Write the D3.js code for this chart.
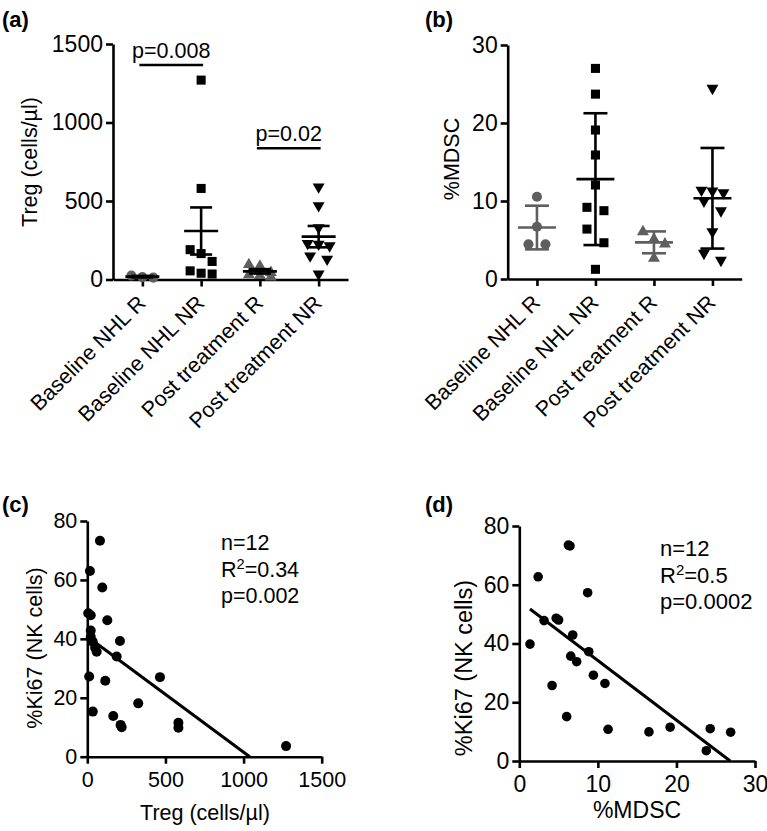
<!DOCTYPE html>
<html><head><meta charset="utf-8">
<script src="https://cdn.jsdelivr.net/npm/d3@7"></script>
<style>body{margin:0;background:#fff}</style>
</head><body><svg id="chart" width="767" height="831"></svg>
<script>
// ---------------- DATA ----------------
const categories = ["Baseline NHL R", "Baseline NHL NR", "Post treatment R", "Post treatment NR"];

// (a) Treg (cells/µl)
const tregBaseR  = [25, 15, 12];
const tregBaseNR = [1270, 580, 190, 165, 115, 55, 40, 35];
const tregPostR  = [95, 85, 45, 30, 25, 15];
const tregPostNR = [590, 470, 330, 230, 225, 215, 150, 130, 35];
const tregMean   = [18, 309, 52, 273];
const tregSEM    = [5, 150, 14, 68];
const tregTicks  = [0, 500, 1000, 1500];
const sigLabels  = ["p=0.008", "p=0.02"];
const sigPairs   = [[0, 1], [2, 3]];
const sigLevels  = [1366, 836];

// (b) %MDSC
const mdscBaseR  = [10.55, 6.7, 4.45, 4.45];
const mdscBaseNR = [27.0, 23.7, 19.1, 15.9, 12.05, 9.19, 8.76, 6.4, 4.65, 1.24];
const mdscPostR  = [6.06, 5.1, 4.49, 2.65];
const mdscPostNR = [24.45, 11.4, 11.3, 11.05, 10.0, 8.75, 6.06, 3.3, 2.4];
const mdscMean   = [6.6, 12.8, 4.7, 10.35];
const mdscSD     = [2.8, 8.45, 1.4, 6.45];
const mdscTicks  = [0, 10, 20, 30];

// (c) Treg vs %Ki67
const cTreg = [81, 17, 96, 6, 22, 128, 22, 22, 35, 50, 60, 209, 188, 12, 115, 465, 326, 35, 166, 213, 220, 583, 583, 1272];
const cKi67 = [73.3, 63, 57.4, 48.7, 48, 46.3, 42.8, 40.7, 39, 37, 35.6, 39.3, 34, 27.2, 25.8, 27, 18.1, 15.3, 13.8, 10.8, 10, 11.5, 9.8, 3.6];
const cFit  = {intercept: 40.8, slope: -0.03925};
const cStats = ["n=12", "R", "=0.34", "p=0.002"];
const cXTicks = [0, 500, 1000, 1500];
const kiTicks = [0, 20, 40, 60, 80];

// (d) %MDSC vs %Ki67
const dMdsc = [6.25, 6.45, 2.4, 8.7, 4.7, 5.0, 3.15, 1.36, 6.8, 8.84, 6.55, 7.3, 9.43, 10.9, 4.17, 6.03, 11.3, 16.5, 19.2, 24.3, 26.9, 23.8];
const dKi67 = [73.5, 73.2, 62.7, 57.3, 48.6, 48, 47.8, 39.8, 42.9, 37.2, 35.7, 33.8, 29.2, 26.4, 25.7, 15.1, 10.8, 9.9, 11.5, 11, 9.8, 3.5];
const dFit  = {intercept: 54.5, slope: -2.03};
const dStats = ["n=12", "R", "=0.5", "p=0.0002"];
const dXTicks = [0, 10, 20, 30];

// ---------------- DRAWING ----------------
const FONT = "'Liberation Sans', Arial, Helvetica, sans-serif";
const GRAY = "#5e5e5e";
const FS = 21.5;
const LW = 2.6;
const svg = d3.select("#chart");

function styleAxis(g, fs) {
  g.select(".domain").attr("stroke", "#000").attr("stroke-width", LW);
  g.selectAll(".tick line").attr("stroke", "#000").attr("stroke-width", LW);
  g.selectAll(".tick text").attr("font-size", fs).attr("font-family", FONT).attr("fill", "#000");
}
function txt(x, y, s, opt = {}) {
  const t = svg.append("text").attr("x", x).attr("y", y).text(s)
    .attr("font-family", FONT).attr("font-size", opt.fs || FS).attr("fill", "#000")
    .attr("text-anchor", opt.anchor || "start");
  if (opt.bold) t.attr("font-weight", "bold");
  if (opt.rot) t.attr("transform", `rotate(${opt.rot},${x},${y})`);
  return t;
}

// swarm-like horizontal arrangement (Prism-style)
function arrange(vals, y, thr = 14, cap = 3) {
  const pts = vals.map(v => ({ v, py: y(v) })).sort((a, b) => a.py - b.py);
  const clusters = []; let cur = null;
  pts.forEach(p => {
    if (cur && p.py - cur[0].py < thr && cur.length < cap) cur.push(p);
    else { cur = [p]; clusters.push(cur); }
  });
  clusters.forEach(c => {
    const n = c.length;
    c.forEach((p, i) => { p.dx = n === 1 ? 0 : n === 2 ? (i === 0 ? -8.5 : 8.5) : (i - (n - 1) / 2) * 11; });
  });
  return pts;
}

const symSquare = d3.symbol().type(d3.symbolSquare).size(82)();
const symCircle = d3.symbol().type(d3.symbolCircle).size(80)();
const symTri    = d3.symbol().type(d3.symbolTriangle).size(62)();

function columnPanel(cfg) {
  const x = d3.scalePoint().domain(categories).range(cfg.xRange).padding(0.5);
  const y = d3.scaleLinear().domain(cfg.yDomain).range(cfg.yRange);
  const gy = svg.append("g").attr("transform", `translate(${cfg.xRange[0]},0)`)
    .call(d3.axisLeft(y).tickValues(cfg.ticks).tickSize(7).tickSizeOuter(0).tickPadding(3).tickFormat(d3.format("d")));
  styleAxis(gy, cfg.tickFs);
  const gx = svg.append("g").attr("transform", `translate(0,${cfg.yRange[0]})`)
    .call(d3.axisBottom(x).tickSize(7).tickSizeOuter(0));
  styleAxis(gx, FS);
  gx.selectAll(".tick text").attr("x", 0).attr("y", 0).attr("dy", 0)
    .attr("text-anchor", "end").attr("transform", "translate(4,25) rotate(-45)");
  cfg.groups.forEach((vals, gi) => {
    const cx = x(categories[gi]);
    const pts = arrange(vals, y);
    svg.append("g").selectAll("path").data(pts).join("path")
      .attr("d", cfg.shapes[gi])
      .attr("transform", d => `translate(${cx + d.dx},${d.py})${cfg.flip[gi] ? " rotate(180)" : ""}`)
      .attr("fill", cfg.colors[gi]);
  });
  cfg.mean.forEach((m, gi) => {
    const cx = x(categories[gi]);
    const col = cfg.barColors[gi];
    const g = svg.append("g").attr("stroke", col).attr("stroke-width", LW).attr("fill", "none");
    const e = cfg.err[gi];
    g.append("line").attr("x1", cx).attr("x2", cx).attr("y1", y(m - e)).attr("y2", y(m + e));
    [m - e, m + e].forEach(v => g.append("line").attr("x1", cx - cfg.capW).attr("x2", cx + cfg.capW).attr("y1", y(v)).attr("y2", y(v)));
    g.append("line").attr("x1", cx - cfg.meanW).attr("x2", cx + cfg.meanW).attr("y1", y(m)).attr("y2", y(m));
  });
  return { x, y };
}

// ---- Panel (a)
const A = columnPanel({
  xRange: [113, 348], yRange: [279.5, 44], yDomain: [0, 1500], ticks: tregTicks, tickFs: 23,
  groups: [tregBaseR, tregBaseNR, tregPostR, tregPostNR],
  shapes: [symCircle, symSquare, symTri, symTri], flip: [false, false, false, true],
  colors: [GRAY, "#000", GRAY, "#000"], barColors: ["#000", "#000", "#000", "#000"],
  mean: tregMean, err: tregSEM, meanW: 17, capW: 11
});
sigPairs.forEach((pr, i) => {
  const x1 = A.x(categories[pr[0]]) - 3, x2 = A.x(categories[pr[1]]) + 2;
  const yy = A.y(sigLevels[i]);
  svg.append("line").attr("x1", x1).attr("x2", x2).attr("y1", yy).attr("y2", yy)
    .attr("stroke", "#000").attr("stroke-width", LW);
  txt((x1 + x2) / 2, yy - 7, sigLabels[i], { anchor: "middle" });
});
txt(2, 27, "(a)", { bold: true, fs: 22 });
txt(37, 162, "Treg (cells/µl)", { anchor: "middle", rot: -90 });

// ---- Panel (b)
columnPanel({
  xRange: [507.7, 741.7], yRange: [279, 45], yDomain: [0, 30], ticks: mdscTicks, tickFs: 23,
  groups: [mdscBaseR, mdscBaseNR, mdscPostR, mdscPostNR],
  shapes: [symCircle, symSquare, symTri, symTri], flip: [false, false, false, true],
  colors: [GRAY, "#000", GRAY, "#000"], barColors: [GRAY, "#000", GRAY, "#000"],
  mean: mdscMean, err: mdscSD, meanW: 19, capW: 12
});
txt(425, 27, "(b)", { bold: true, fs: 22 });
txt(458.5, 159, "%MDSC", { anchor: "middle", rot: -90 });

// ---- Scatter panels
function scatterPanel(cfg) {
  const x = d3.scaleLinear().domain(cfg.xDomain).range(cfg.xRange);
  const y = d3.scaleLinear().domain([0, 80]).range(cfg.yRange);
  const gy = svg.append("g").attr("transform", `translate(${cfg.xRange[0]},0)`)
    .call(d3.axisLeft(y).tickValues(kiTicks).tickSize(7).tickSizeOuter(0).tickPadding(3));
  styleAxis(gy, cfg.fs);
  const gx = svg.append("g").attr("transform", `translate(0,${cfg.yRange[0]})`)
    .call(d3.axisBottom(x).tickValues(cfg.xTicks).tickSize(7).tickSizeOuter(0).tickPadding(8).tickFormat(d3.format("d")));
  styleAxis(gx, cfg.fs);
  const xs = d3.min(cfg.xs);
  const xe = Math.min(d3.max(cfg.xs), -cfg.fit.intercept / cfg.fit.slope);
  svg.append("line")
    .attr("x1", x(xs)).attr("y1", y(cfg.fit.intercept + cfg.fit.slope * xs))
    .attr("x2", x(xe)).attr("y2", y(cfg.fit.intercept + cfg.fit.slope * xe))
    .attr("stroke", "#000").attr("stroke-width", 3);
  svg.append("g").selectAll("circle").data(cfg.xs.map((v, i) => [v, cfg.ys[i]])).join("circle")
    .attr("cx", d => x(d[0])).attr("cy", d => y(d[1])).attr("r", cfg.r).attr("fill", "#000");
  const [n, r, rv, p] = cfg.stats;
  txt(cfg.statX, cfg.statY, n, { fs: cfg.sfs });
  const t = txt(cfg.statX, cfg.statY + 26.5, r, { fs: cfg.sfs });
  t.append("tspan").attr("dy", -8).attr("font-size", cfg.sfs * 0.68).text("2");
  t.append("tspan").attr("dy", 8).text(rv);
  txt(cfg.statX, cfg.statY + 53, p, { fs: cfg.sfs });
  return { x, y };
}

scatterPanel({
  xDomain: [0, 1500], xRange: [87.3, 321.7], yRange: [756.7, 521], xTicks: cXTicks,
  xs: cTreg, ys: cKi67, fit: cFit, stats: cStats, statX: 221, statY: 550, r: 5, fs: 21.5, sfs: 21.5
});
txt(2, 512, "(c)", { bold: true, fs: 22 });
txt(42, 648, "%Ki67  (NK cells)", { anchor: "middle", rot: -90 });
txt(205, 820, "Treg (cells/µl)", { anchor: "middle" });

scatterPanel({
  xDomain: [0, 30], xRange: [519.3, 755], yRange: [761, 526], xTicks: dXTicks,
  xs: dMdsc, ys: dKi67, fit: dFit, stats: dStats, statX: 660, statY: 556, r: 4.8, fs: 23, sfs: 22
});
txt(425, 512, "(d)", { bold: true, fs: 22 });
txt(471.5, 668, "%Ki67  (NK cells)", { anchor: "middle", rot: -90, fs: 23.5 });
txt(637, 818, "%MDSC", { anchor: "middle", fs: 23 });
</script>
</body></html>
